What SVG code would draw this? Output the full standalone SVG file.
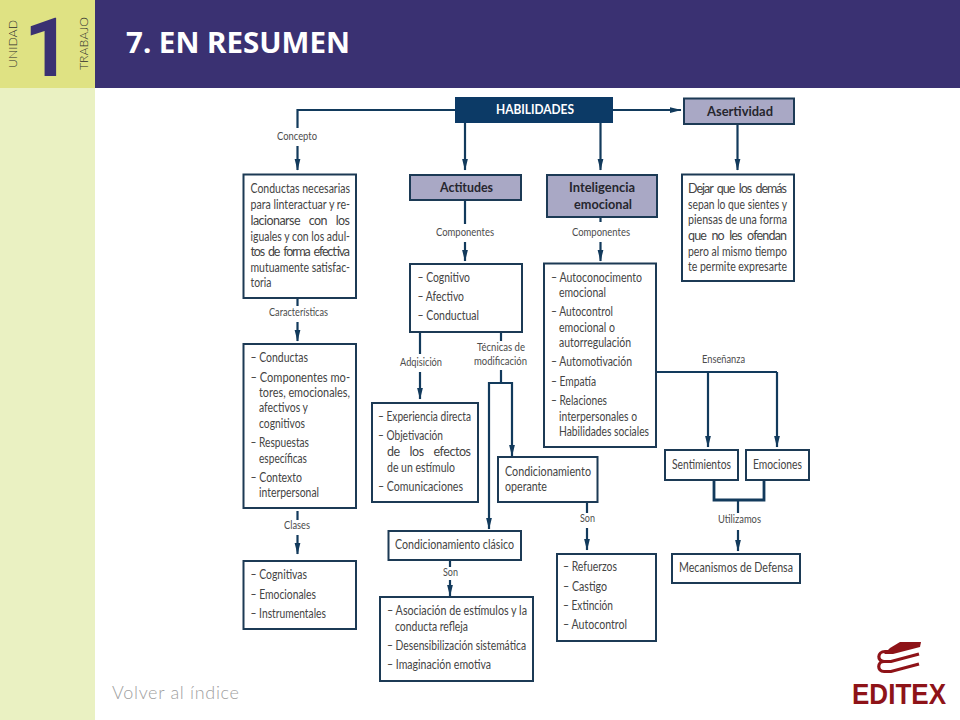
<svg xmlns="http://www.w3.org/2000/svg" width="960" height="720" viewBox="0 0 960 720">
<style>
text{font-family:"Lato","Liberation Sans",sans-serif;fill:#444}
.t{font-size:12.5px}
.l{font-size:10.5px;fill:#4c4c4c}
.b{font-size:14px;font-weight:700;fill:#26262e}
.box{fill:#fff;stroke:#1c3a55;stroke-width:2}
.hd{fill:#a9a8c5;stroke:#1c3a55;stroke-width:2}
.c{fill:none;stroke:#123a5c;stroke-width:2.2}
.a{marker-end:url(#ah)}
.w{stroke:#123a5c;stroke-width:2.8;fill:none}
</style>
<defs>
<marker id="ah" viewBox="0 0 12 6" refX="11.5" refY="3" markerUnits="userSpaceOnUse" markerWidth="12" markerHeight="6.5" orient="auto"><path d="M0 0L12 3L0 6Z" fill="#123a5c"/></marker>
</defs>
<rect width="960" height="720" fill="#fff"/>
<rect y="88" width="95" height="632" fill="#eaf1c2"/>
<rect width="95" height="88" fill="#dfe283"/>
<rect x="95" width="865" height="88" fill="#3a3172"/>
<text x="24" y="76" style="font-family:'Roboto',sans-serif;font-size:82px;font-weight:700;fill:#3a3172">1</text>
<text transform="translate(17,68) rotate(-90)" textLength="48" lengthAdjust="spacingAndGlyphs" style="font-size:12px;font-weight:300;fill:#2e2e2e">UNIDAD</text>
<text transform="translate(88,70) rotate(-90)" textLength="53" lengthAdjust="spacingAndGlyphs" style="font-size:12px;font-weight:300;fill:#2e2e2e">TRABAJO</text>
<text x="126" y="53" textLength="224" lengthAdjust="spacingAndGlyphs" style="font-family:'Noto Sans',sans-serif;font-size:29px;font-weight:700;fill:#fff">7. EN RESUMEN</text>

<g id="connectors">
<path class="c" d="M455 110H297.5V128"/>
<path class="c a" d="M297.5 146V170"/>
<path class="c a" d="M465 123V170"/>
<path class="c a" d="M600.5 123V170"/>
<path class="c a" d="M613 110H681"/>
<path class="c a" d="M737.5 124V170"/>
<path class="c" d="M465 200V224"/>
<path class="c a" d="M465 242V261"/>
<path class="c" d="M600.5 217V222"/>
<path class="c a" d="M600.5 242V261"/>
<path class="c" d="M297.5 298V306"/>
<path class="c a" d="M297.5 322V341"/>
<path class="c" d="M297.5 511V520"/>
<path class="c a" d="M297.5 535V554"/>
<path class="c" d="M420 332V354"/>
<path class="c a" d="M420 372V399"/>
<path class="c" d="M501 332V341"/>
<path class="c" d="M501 370V383"/>
<path class="c a" d="M501 383H489V529"/>
<path class="c a" d="M501 383H512V456"/>
<path class="c" d="M450 560V567"/>
<path class="c a" d="M450 580V596"/>
<path class="c" d="M587 502V513"/>
<path class="c a" d="M587 528V550"/>
<path class="c" d="M656 372H777"/>
<path class="c a" d="M708 372V447"/>
<path class="c a" d="M777 372V447"/>
<path class="w" d="M714 480V500H764V480"/>
<path class="c" d="M738 500V513"/>
<path class="c a" d="M738 530V551"/>
</g>

<g id="labels">
<text class="l" x="277" y="140" textLength="40" lengthAdjust="spacingAndGlyphs">Concepto</text>
<text class="l" x="436" y="236" textLength="58" lengthAdjust="spacingAndGlyphs">Componentes</text>
<text class="l" x="572" y="236" textLength="58" lengthAdjust="spacingAndGlyphs">Componentes</text>
<text class="l" x="269" y="316" textLength="59" lengthAdjust="spacingAndGlyphs">Características</text>
<text class="l" x="284" y="529" textLength="26" lengthAdjust="spacingAndGlyphs">Clases</text>
<text class="l" x="400" y="366" textLength="42" lengthAdjust="spacingAndGlyphs">Adqisición</text>
<text class="l" x="477" y="351" textLength="48" lengthAdjust="spacingAndGlyphs">Técnicas de</text>
<text class="l" x="474" y="365" textLength="53" lengthAdjust="spacingAndGlyphs">modificación</text>
<text class="l" x="443" y="576" textLength="15" lengthAdjust="spacingAndGlyphs">Son</text>
<text class="l" x="580" y="522" textLength="15" lengthAdjust="spacingAndGlyphs">Son</text>
<text class="l" x="702" y="363" textLength="43" lengthAdjust="spacingAndGlyphs">Enseñanza</text>
<text class="l" x="718" y="523" textLength="43" lengthAdjust="spacingAndGlyphs">Utilizamos</text>
</g>

<g id="habilidades">
<rect x="455" y="97" width="158" height="26" fill="#0c3a66"/>
<text x="496" y="114" textLength="78" lengthAdjust="spacingAndGlyphs" style="font-size:14px;font-weight:700;fill:#fff">HABILIDADES</text>
</g>
<g id="asertividad">
<rect class="hd" x="684" y="98.5" width="110" height="25.5"/>
<text class="b" x="707" y="116" textLength="66" lengthAdjust="spacingAndGlyphs">Asertividad</text>
</g>
<g id="actitudes">
<rect class="hd" x="410" y="175" width="111" height="25"/>
<text class="b" x="440" y="192" textLength="53" lengthAdjust="spacingAndGlyphs">Actitudes</text>
</g>
<g id="inteligencia">
<rect class="hd" x="547" y="175" width="110" height="42"/>
<text class="b" x="569" y="192" textLength="66" lengthAdjust="spacingAndGlyphs">Inteligencia</text>
<text class="b" x="574" y="209" textLength="58" lengthAdjust="spacingAndGlyphs">emocional</text>
</g>
<g id="concepto">
<rect class="box" x="243.5" y="174.5" width="112.5" height="123.5"/>
<text class="t" x="250.5" y="193" textLength="99.5" lengthAdjust="spacingAndGlyphs">Conductas necesarias</text>
<text class="t" x="250.5" y="209" textLength="99.5" lengthAdjust="spacingAndGlyphs">para linteractuar y re-</text>
<text class="t" x="250.5" y="225" textLength="99.5" lengthAdjust="spacing" word-spacing="6">lacionarse con los</text>
<text class="t" x="250.5" y="241" textLength="99.5" lengthAdjust="spacingAndGlyphs">iguales y con los adul-</text>
<text class="t" x="250.5" y="256" textLength="99.5" lengthAdjust="spacing" word-spacing="2">tos de forma efectiva</text>
<text class="t" x="250.5" y="272" textLength="99.5" lengthAdjust="spacingAndGlyphs">mutuamente satisfac-</text>
<text class="t" x="250.5" y="287" textLength="21" lengthAdjust="spacingAndGlyphs">toria</text>
</g>
<g id="caracteristicas">
<rect class="box" x="243.5" y="344" width="112.5" height="164"/>
<text class="t" x="250.5" y="362" textLength="57.5" lengthAdjust="spacingAndGlyphs">– Conductas</text>
<text class="t" x="250.5" y="381.5" textLength="99.5" lengthAdjust="spacingAndGlyphs">– Componentes mo-</text>
<text class="t" x="259" y="397" textLength="91" lengthAdjust="spacingAndGlyphs">tores, emocionales,</text>
<text class="t" x="259" y="412" textLength="49" lengthAdjust="spacingAndGlyphs">afectivos y</text>
<text class="t" x="259" y="428" textLength="46" lengthAdjust="spacingAndGlyphs">cognitivos</text>
<text class="t" x="250.5" y="447" textLength="58.5" lengthAdjust="spacingAndGlyphs">– Respuestas</text>
<text class="t" x="259" y="463" textLength="48" lengthAdjust="spacingAndGlyphs">específicas</text>
<text class="t" x="250.5" y="482" textLength="51.5" lengthAdjust="spacingAndGlyphs">– Contexto</text>
<text class="t" x="259" y="497" textLength="60" lengthAdjust="spacingAndGlyphs">interpersonal</text>
</g>
<g id="clases">
<rect class="box" x="243.5" y="561" width="112.5" height="68"/>
<text class="t" x="250.5" y="579" textLength="56.5" lengthAdjust="spacingAndGlyphs">– Cognitivas</text>
<text class="t" x="250.5" y="599" textLength="65.5" lengthAdjust="spacingAndGlyphs">– Emocionales</text>
<text class="t" x="250.5" y="618" textLength="75.5" lengthAdjust="spacingAndGlyphs">– Instrumentales</text>
</g>
<g id="componentes-actitudes">
<rect class="box" x="410" y="264" width="112" height="68"/>
<text class="t" x="417.5" y="282" textLength="52.5" lengthAdjust="spacingAndGlyphs">– Cognitivo</text>
<text class="t" x="417.5" y="301" textLength="46.5" lengthAdjust="spacingAndGlyphs">– Afectivo</text>
<text class="t" x="417.5" y="320" textLength="61.5" lengthAdjust="spacingAndGlyphs">– Conductual</text>
</g>
<g id="componentes-inteligencia">
<rect class="box" x="544" y="263.5" width="112" height="183.5"/>
<text class="t" x="551" y="282" textLength="91" lengthAdjust="spacingAndGlyphs">– Autoconocimento</text>
<text class="t" x="559" y="297" textLength="47" lengthAdjust="spacingAndGlyphs">emocional</text>
<text class="t" x="551" y="316" textLength="62" lengthAdjust="spacingAndGlyphs">– Autocontrol</text>
<text class="t" x="559" y="332" textLength="56" lengthAdjust="spacingAndGlyphs">emocional o</text>
<text class="t" x="559" y="347" textLength="72" lengthAdjust="spacingAndGlyphs">autorregulación</text>
<text class="t" x="551" y="366" textLength="81" lengthAdjust="spacingAndGlyphs">– Automotivación</text>
<text class="t" x="551" y="386" textLength="45" lengthAdjust="spacingAndGlyphs">– Empatía</text>
<text class="t" x="551" y="405" textLength="56" lengthAdjust="spacingAndGlyphs">– Relaciones</text>
<text class="t" x="559" y="421" textLength="78" lengthAdjust="spacingAndGlyphs">interpersonales o</text>
<text class="t" x="559" y="436" textLength="90" lengthAdjust="spacingAndGlyphs">Habilidades sociales</text>
</g>
<g id="definicion-asertividad">
<rect class="box" x="682" y="174.5" width="112" height="106.5"/>
<text class="t" x="688" y="193" textLength="99" lengthAdjust="spacing" word-spacing="2">Dejar que los demás</text>
<text class="t" x="688" y="209" textLength="99" lengthAdjust="spacingAndGlyphs">sepan lo que sientes y</text>
<text class="t" x="688" y="224" textLength="99" lengthAdjust="spacingAndGlyphs">piensas de una forma</text>
<text class="t" x="688" y="240" textLength="99" lengthAdjust="spacing" word-spacing="3">que no les ofendan</text>
<text class="t" x="688" y="256" textLength="99" lengthAdjust="spacingAndGlyphs">pero al mismo tiempo</text>
<text class="t" x="688" y="271" textLength="99" lengthAdjust="spacingAndGlyphs">te permite expresarte</text>
</g>
<g id="adquisicion">
<rect class="box" x="372" y="403" width="106" height="99"/>
<text class="t" x="378" y="421" textLength="93" lengthAdjust="spacingAndGlyphs">– Experiencia directa</text>
<text class="t" x="378" y="440" textLength="65" lengthAdjust="spacingAndGlyphs">– Objetivación</text>
<text class="t" x="387" y="456" textLength="84" lengthAdjust="spacing" word-spacing="7">de los efectos</text>
<text class="t" x="387" y="472" textLength="68" lengthAdjust="spacingAndGlyphs">de un estímulo</text>
<text class="t" x="378" y="491" textLength="85" lengthAdjust="spacingAndGlyphs">– Comunicaciones</text>
</g>
<g id="condicionamiento-clasico">
<rect class="box" x="388.5" y="531" width="132.5" height="29"/>
<text class="t" x="395" y="549" textLength="119" lengthAdjust="spacingAndGlyphs">Condicionamiento clásico</text>
</g>
<g id="asociacion">
<rect class="box" x="380" y="597" width="153" height="84"/>
<text class="t" x="387" y="615" textLength="140" lengthAdjust="spacingAndGlyphs">– Asociación de estímulos y la</text>
<text class="t" x="395" y="631" textLength="73" lengthAdjust="spacingAndGlyphs">conducta refleja</text>
<text class="t" x="387" y="650" textLength="139" lengthAdjust="spacingAndGlyphs">– Desensibilización sistemática</text>
<text class="t" x="387" y="669" textLength="104" lengthAdjust="spacingAndGlyphs">– Imaginación emotiva</text>
</g>
<g id="condicionamiento-operante">
<rect class="box" x="498" y="457" width="99.5" height="45"/>
<text class="t" x="505" y="476" textLength="86" lengthAdjust="spacingAndGlyphs">Condicionamiento</text>
<text class="t" x="505" y="491" textLength="42" lengthAdjust="spacingAndGlyphs">operante</text>
</g>
<g id="refuerzos">
<rect class="box" x="557" y="554" width="99" height="87"/>
<text class="t" x="563" y="571" textLength="54" lengthAdjust="spacingAndGlyphs">– Refuerzos</text>
<text class="t" x="563" y="591" textLength="44" lengthAdjust="spacingAndGlyphs">– Castigo</text>
<text class="t" x="563" y="610" textLength="50" lengthAdjust="spacingAndGlyphs">– Extinción</text>
<text class="t" x="563" y="629" textLength="64" lengthAdjust="spacingAndGlyphs">– Autocontrol</text>
</g>
<g id="sentimientos">
<rect class="box" x="665" y="450" width="73" height="30"/>
<text class="t" x="672" y="469" textLength="59" lengthAdjust="spacingAndGlyphs">Sentimientos</text>
</g>
<g id="emociones">
<rect class="box" x="746" y="450" width="63" height="30"/>
<text class="t" x="753" y="469" textLength="49" lengthAdjust="spacingAndGlyphs">Emociones</text>
</g>
<g id="mecanismos">
<rect class="box" x="672" y="554" width="128" height="29"/>
<text class="t" x="679" y="572" textLength="114" lengthAdjust="spacingAndGlyphs">Mecanismos de Defensa</text>
</g>

<text x="112" y="699" textLength="127" style="font-size:18px;font-weight:300;fill:#a0a0a0">Volver al índice</text>
<g id="logo">
<path d="M900 642H921L920 647L893 654H884L890 648Z" fill="#8e1318"/>
<path d="M893 651.5H885C877 651.5 877 661.5 884 661.5H891L919 654M884 661.5C877 661.5 877 671.5 884 671.5H891L919 664" fill="none" stroke="#8e1318" stroke-width="3.2"/>
<text x="852" y="704" textLength="94" lengthAdjust="spacingAndGlyphs" style="font-family:'Liberation Sans',sans-serif;font-size:29px;font-weight:700;fill:#8e1318">EDITEX</text>
</g>
</svg>
